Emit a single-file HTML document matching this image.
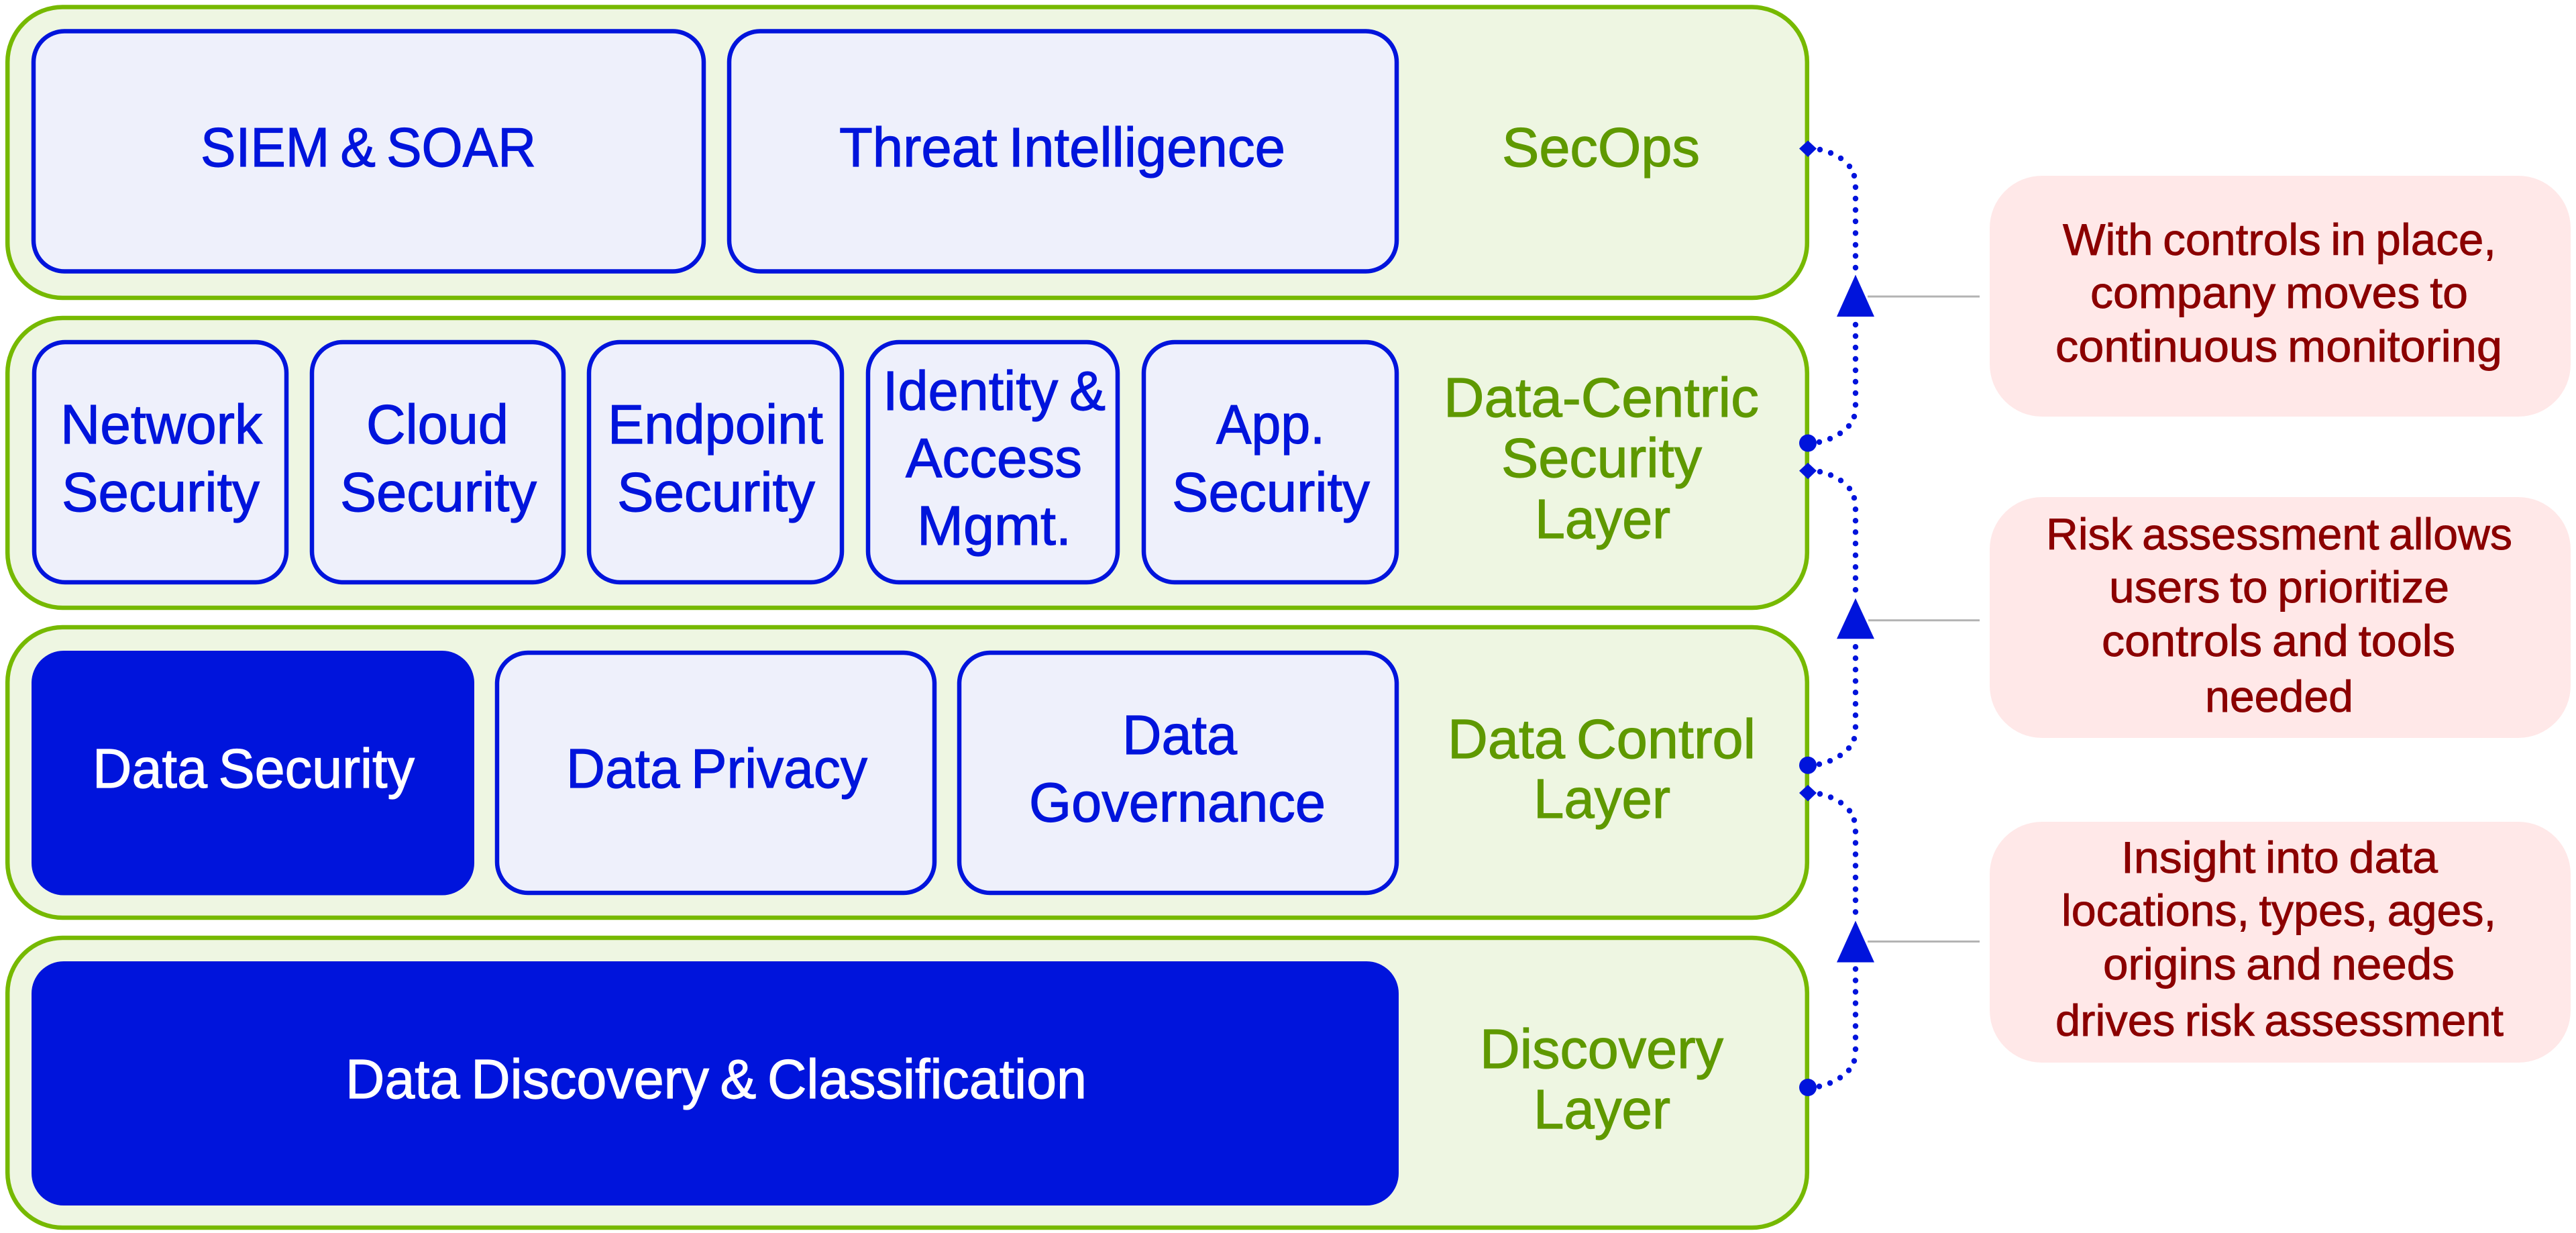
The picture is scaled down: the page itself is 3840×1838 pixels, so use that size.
<!DOCTYPE html>
<html lang="en"><head><meta charset="utf-8"><title>Data security layers</title>
<style>
html,body{margin:0;padding:0;background:#fff}
svg{display:block}
text{font-family:"Liberation Sans",Arial,sans-serif;font-size:83px;word-spacing:-6px;stroke-width:1.2px}
.b{fill:#0014dc;stroke:#0014dc}.w{fill:#fff;stroke:#fff}.g{fill:#5f9900;stroke:#5f9900}
.r{fill:#8b0000;stroke:#8b0000;font-size:66px;word-spacing:-4px;stroke-width:.9px}
.o{fill:#eef6e2;stroke:#76b900;stroke-width:6.5}
.i{fill:#eef0fb;stroke:#0014dc;stroke-width:6.5}
.f{fill:#0014dc}
.p{fill:#ffe8e8}
</style></head><body>
<svg width="3840" height="1838" viewBox="0 0 3840 1838" xmlns="http://www.w3.org/2000/svg">
<rect width="3840" height="1838" fill="#fff"/>
<!-- layers -->
<rect class="o" x="11.2" y="10.5" width="2682.6" height="433.5" rx="82"/>
<rect class="o" x="11.2" y="474" width="2682.6" height="432" rx="82"/>
<rect class="o" x="11.2" y="935" width="2682.6" height="433" rx="82"/>
<rect class="o" x="11.2" y="1398" width="2682.6" height="432" rx="82"/>
<!-- row 1 -->
<rect class="i" x="50" y="46.5" width="999" height="358" rx="46"/>
<rect class="i" x="1087" y="46.5" width="995" height="358" rx="46"/>
<!-- row 2 -->
<rect class="i" x="51" y="510" width="376" height="358" rx="46"/>
<rect class="i" x="465" y="510" width="375" height="358" rx="46"/>
<rect class="i" x="878" y="510" width="377" height="358" rx="46"/>
<rect class="i" x="1294" y="510" width="372" height="358" rx="46"/>
<rect class="i" x="1705" y="510" width="377" height="358" rx="46"/>
<!-- row 3 -->
<rect class="f" x="47" y="970" width="660" height="364.5" rx="48"/>
<rect class="i" x="741" y="973" width="652" height="358" rx="46"/>
<rect class="i" x="1430" y="973" width="652" height="358" rx="46"/>
<!-- row 4 -->
<rect class="f" x="47" y="1433" width="2038" height="364" rx="48"/>
<!-- notes -->
<rect class="p" x="2966" y="262" width="866" height="359" rx="78"/>
<rect class="p" x="2966" y="741" width="866" height="359" rx="78"/>
<rect class="p" x="2966" y="1225" width="866" height="359" rx="78"/>
<!-- gray leaders -->
<g fill="#b3b3b3">
<rect x="2784" y="440.5" width="167" height="3"/>
<rect x="2785" y="923.2" width="166" height="3"/>
<rect x="2784" y="1402" width="167" height="3"/>
</g>
<!-- connectors -->
<defs>
<g id="c" fill="#0014dc">
<polygon points="2682,221.5 2695,209.5 2708,221.5 2695,234"/>
<circle cx="2713" cy="223" r="4.2"/><circle cx="2729" cy="228" r="4.2"/><circle cx="2744" cy="236" r="4.2"/><circle cx="2757" cy="248" r="4.2"/><circle cx="2764" cy="262" r="4.2"/>
<circle cx="2766" cy="279" r="4.2"/><circle cx="2766" cy="296" r="4.2"/><circle cx="2766" cy="313" r="4.2"/><circle cx="2766" cy="330" r="4.2"/><circle cx="2766" cy="347.5" r="4.2"/><circle cx="2766" cy="365" r="4.2"/><circle cx="2766" cy="381.5" r="4.2"/><circle cx="2766" cy="399" r="4.2"/>
<circle cx="2766" cy="484" r="4.2"/><circle cx="2766" cy="501" r="4.2"/><circle cx="2766" cy="518" r="4.2"/><circle cx="2766" cy="535" r="4.2"/><circle cx="2766" cy="552" r="4.2"/><circle cx="2766" cy="569" r="4.2"/><circle cx="2766" cy="586" r="4.2"/><circle cx="2766" cy="603.5" r="4.2"/>
<circle cx="2764" cy="621" r="4.2"/><circle cx="2756" cy="635" r="4.2"/><circle cx="2743" cy="646" r="4.2"/><circle cx="2728" cy="654" r="4.2"/><circle cx="2712" cy="659" r="4.2"/>
<circle cx="2695" cy="660.5" r="13"/>
</g>
</defs>
<use href="#c"/>
<use href="#c" y="480.2"/>
<use href="#c" y="960.5"/>
<g fill="#0014dc">
<polygon points="2766,409.5 2794,472 2738,472"/>
<polygon points="2766,891.7 2794,952.3 2738,952.3"/>
<polygon points="2766,1372.5 2794,1434.5 2738,1434.5"/>
</g>
<!-- text row 1 -->
<text class="b" x="299" y="248" textLength="500" lengthAdjust="spacingAndGlyphs">SIEM &amp; SOAR</text>
<text class="b" x="1251" y="248" textLength="665" lengthAdjust="spacingAndGlyphs">Threat Intelligence</text>
<text class="g" x="2239" y="248" textLength="295" lengthAdjust="spacingAndGlyphs">SecOps</text>
<!-- text row 2 -->
<text class="b" x="90" y="661" textLength="301" lengthAdjust="spacingAndGlyphs">Network</text>
<text class="b" x="92" y="762" textLength="295" lengthAdjust="spacingAndGlyphs">Security</text>
<text class="b" x="546" y="661" textLength="212" lengthAdjust="spacingAndGlyphs">Cloud</text>
<text class="b" x="507" y="762" textLength="293" lengthAdjust="spacingAndGlyphs">Security</text>
<text class="b" x="906" y="661" textLength="321" lengthAdjust="spacingAndGlyphs">Endpoint</text>
<text class="b" x="920" y="762" textLength="295" lengthAdjust="spacingAndGlyphs">Security</text>
<text class="b" x="1316" y="611" textLength="332" lengthAdjust="spacingAndGlyphs">Identity &amp;</text>
<text class="b" x="1350" y="711" textLength="263" lengthAdjust="spacingAndGlyphs">Access</text>
<text class="b" x="1367" y="812" textLength="230" lengthAdjust="spacingAndGlyphs">Mgmt.</text>
<text class="b" x="1813" y="661" textLength="162" lengthAdjust="spacingAndGlyphs">App.</text>
<text class="b" x="1747" y="762" textLength="295" lengthAdjust="spacingAndGlyphs">Security</text>
<text class="g" x="2152" y="621" textLength="470" lengthAdjust="spacingAndGlyphs">Data-Centric</text>
<text class="g" x="2238" y="711" textLength="299" lengthAdjust="spacingAndGlyphs">Security</text>
<text class="g" x="2288" y="802" textLength="202" lengthAdjust="spacingAndGlyphs">Layer</text>
<!-- text row 3 -->
<text class="w" x="138" y="1174" textLength="480" lengthAdjust="spacingAndGlyphs">Data Security</text>
<text class="b" x="844" y="1174" textLength="449" lengthAdjust="spacingAndGlyphs">Data Privacy</text>
<text class="b" x="1673" y="1124" textLength="171" lengthAdjust="spacingAndGlyphs">Data</text>
<text class="b" x="1534" y="1224.5" textLength="442" lengthAdjust="spacingAndGlyphs">Governance</text>
<text class="g" x="2158" y="1130" textLength="459" lengthAdjust="spacingAndGlyphs">Data Control</text>
<text class="g" x="2286" y="1219" textLength="204" lengthAdjust="spacingAndGlyphs">Layer</text>
<!-- text row 4 -->
<text class="w" x="515" y="1637" textLength="1105" lengthAdjust="spacingAndGlyphs">Data Discovery &amp; Classification</text>
<text class="g" x="2206" y="1592" textLength="363" lengthAdjust="spacingAndGlyphs">Discovery</text>
<text class="g" x="2286" y="1682" textLength="204" lengthAdjust="spacingAndGlyphs">Layer</text>
<!-- notes text -->
<text class="r" x="3075" y="380" textLength="646" lengthAdjust="spacingAndGlyphs">With controls in place,</text>
<text class="r" x="3116" y="459" textLength="563" lengthAdjust="spacingAndGlyphs">company moves to</text>
<text class="r" x="3064" y="539" textLength="666" lengthAdjust="spacingAndGlyphs">continuous monitoring</text>
<text class="r" x="3050" y="819" textLength="695" lengthAdjust="spacingAndGlyphs">Risk assessment allows</text>
<text class="r" x="3144" y="898" textLength="507" lengthAdjust="spacingAndGlyphs">users to prioritize</text>
<text class="r" x="3133" y="978" textLength="527" lengthAdjust="spacingAndGlyphs">controls and tools</text>
<text class="r" x="3287" y="1061" textLength="221" lengthAdjust="spacingAndGlyphs">needed</text>
<text class="r" x="3162" y="1301" textLength="472" lengthAdjust="spacingAndGlyphs">Insight into data</text>
<text class="r" x="3073" y="1380" textLength="648" lengthAdjust="spacingAndGlyphs">locations, types, ages,</text>
<text class="r" x="3135" y="1460" textLength="524" lengthAdjust="spacingAndGlyphs">origins and needs</text>
<text class="r" x="3064" y="1544" textLength="668" lengthAdjust="spacingAndGlyphs">drives risk assessment</text>
</svg>
</body></html>
